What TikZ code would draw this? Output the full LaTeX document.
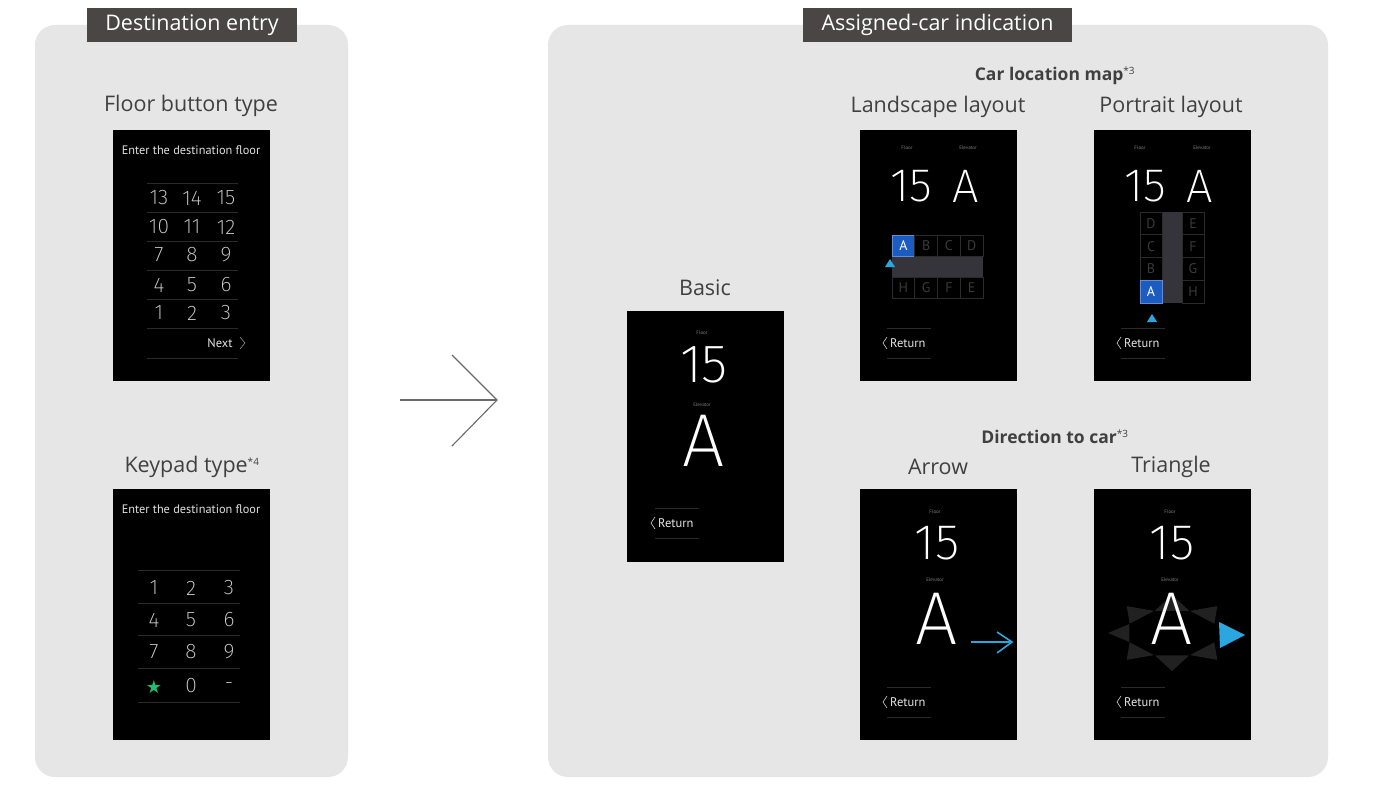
\documentclass[tikz,border=0pt]{standalone}
\usepackage{fontspec}
\setmainfont{Open Sans}
\newfontfamily\screenfont{PT Sans}
\newfontfamily\lightfont{Fira Sans ExtraLight}
\newfontfamily\symfont{DejaVu Sans}
\usetikzlibrary{positioning}

\definecolor{panelgray}{HTML}{E6E6E6}
\definecolor{tabgray}{HTML}{4B4646}
\definecolor{labelgray}{HTML}{404040}
\definecolor{rulegray}{HTML}{2A2A2A}
\definecolor{cellgray}{HTML}{3A3A3A}
\definecolor{lanegray}{HTML}{34343A}
\definecolor{cellblue}{HTML}{1C5CC0}
\definecolor{tipblue}{HTML}{2AA6E0}
\definecolor{keygreen}{HTML}{1DBF73}

\tikzset{
  panel/.style={fill=panelgray, rounded corners=20pt},
  tab/.style={fill=tabgray, text=white, font=\fontsize{21.5}{22}\selectfont, minimum height=34pt, inner sep=0pt},
  label/.style={text=labelgray, font=\fontsize{21.5}{24}\selectfont},
  head/.style={text=labelgray, font=\bfseries\fontsize{17.5}{20}\selectfont},
  screen/.style={fill=black, anchor=north west, minimum width=157pt, minimum height=251pt, inner sep=0pt},
  prompt/.style={text=white!88!black, font=\screenfont\fontsize{12.3}{13}\selectfont},
  key/.style={text=white!82!black, font=\lightfont\fontsize{21}{22}\selectfont},
  tiny/.style={text=white!50!black, font=\screenfont\fontsize{5}{6}\selectfont},
  big/.style={text=white, font=\lightfont\fontsize{#1}{#1}\selectfont},
  ret/.style={text=white!90!black, font=\screenfont\fontsize{12.5}{14}\selectfont, anchor=west, inner xsep=0pt},
  chev/.style={draw=white!80!black, line width=0.6pt},
  sep/.style={draw=rulegray, line width=0.8pt},
  cell/.style={draw=rulegray, line width=0.8pt, text=cellgray, minimum width=22.75pt, minimum height=21pt, inner sep=0pt, font=\screenfont\fontsize{14}{14}\selectfont},
  hicell/.style={cell, fill=cellblue, draw=cellblue!70!white, text=white},
  tri/.style={fill=white!13!black},
}

\newcommand\retbtn[3]{%
  \draw[sep] (#2+4,#3-15) -- (#2+48,#3-15) (#2+4,#3+15) -- (#2+48,#3+15);
  \draw[chev] (#2+4,#3-6) -- (#2,#3) -- (#2+4,#3+6);
  \node[ret] (#1) at (#2+7,#3) {Return};
}

\begin{document}
\begin{tikzpicture}[x=1pt,y=-1pt]
\useasboundingbox (0,0) rectangle (1373,797);
\fill[white] (0,0) rectangle (1373,797);

\fill[panel] (35,25) rectangle (348,777);
\fill[panel] (548,25) rectangle (1328,777);
\node[tab, minimum width=210pt] (tabentry) at (192,25) {Destination entry};
\node[tab, minimum width=269pt] (tabcar) at (937.5,25) {Assigned-car indication};

\node[label] (lfloor) at (191,106) {Floor button type};
\node[label] (lkeypad) at (192,467) {Keypad type\textsuperscript{\fontsize{10}{10}\selectfont *4}};
\node[label] (lbasic) at (705,288) {Basic};
\node[head] (lmap) at (1055,76) {Car location map\textsuperscript{\mdseries\fontsize{10}{10}\selectfont *3}};
\node[label] (lland) at (938,107) {Landscape layout};
\node[label] (lport) at (1171,107) {Portrait layout};
\node[head] (ldir) at (1055,437) {Direction to car\textsuperscript{\mdseries\fontsize{10}{10}\selectfont *3}};
\node[label] (larrow) at (938,467) {Arrow};
\node[label] (ltri) at (1171,467) {Triangle};

\coordinate (arrL) at (400,400);
\coordinate (arrR) at (497,400);
\draw[white!42!black, line width=1.1pt] (arrL) -- (arrR);
\draw[white!42!black, line width=1.1pt] (452,355) -- (arrR) -- (452,446);

% destination entry
\node[screen] (floorscr) at (113,130) {};
\node[prompt] (fprompt) at (191,150) {Enter the destination floor};
\foreach \y in {183,212,241,270,299,328,358} \draw[sep] (147,\y) -- (238,\y);
\foreach \y/\a/\b/\c in {198/13/14/15, 227/10/11/12, 255/7/8/9, 285/4/5/6, 313/1/2/3} {
  \node[key] (f\a) at (159,\y) {\a};
  \node[key] (f\b) at (192,\y) {\b};
  \node[key] (f\c) at (226,\y) {\c};
}
\node[ret, anchor=center] (fnext) at (220,343) {Next};
\draw[chev, draw=white!55!black] (240,337) -- (245,343) -- (240,349);

\node[screen] (keyscr) at (113,489) {};
\node[prompt] (kprompt) at (191,509) {Enter the destination floor};
\foreach \y in {570,603,635,668,702} \draw[sep] (138,\y) -- (240,\y);
\foreach \y/\a/\b/\c in {588/1/2/3, 620/4/5/6, 652/7/8/9} {
  \node[key] (k\a) at (154,\y) {\a};
  \node[key] (k\b) at (191,\y) {\b};
  \node[key] (k\c) at (229,\y) {\c};
}
\node[text=keygreen, font=\symfont\fontsize{18}{18}\selectfont] (kstar) at (154,687) {★};
\node[key] (k0) at (191,686) {0};
\node[key] (kdash) at (229,686) {-};

% assigned car
\node[screen] (basicscr) at (627,311) {};
\node[tiny] (bfloor) at (702,333) {Floor};
\node[big=54] (bnum) at (704,365) {15};
\node[tiny] (belev) at (702,405) {Elevator};
\node[big=75] (bcar) at (704,441) {A};
\retbtn{bret}{651}{523}

\node[screen] (landscr) at (860,130) {};
\node[tiny] (lfl) at (907,148) {Floor};
\node[tiny] (lel) at (968,148) {Elevator};
\node[big=47] (lnum) at (911,186) {15};
\node[big=47] (lcar) at (966,186) {A};
\fill[lanegray] (892,256) rectangle (983,277);
\node[hicell] (ltA) at (903.4,245.5) {A};
\foreach \l/\i in {B/1,C/2,D/3} \node[cell] (lt\l) at (903.4+22.75*\i,245.5) {\l};
\foreach \l/\i in {H/0,G/1,F/2,E/3} \node[cell] (lb\l) at (903.4+22.75*\i,287.5) {\l};
\fill[tipblue] (885,267) -- (890,259) -- (895,267) -- cycle;
\retbtn{lret}{883}{343}

\node[screen] (portscr) at (1094,130) {};
\node[tiny] (pfl) at (1140,148) {Floor};
\node[tiny] (pel) at (1202,148) {Elevator};
\node[big=47] (pnum) at (1145,186) {15};
\node[big=47] (pcar) at (1200,186) {A};
\fill[lanegray] (1162,212) rectangle (1182,303);
\foreach \l/\i in {D/0,C/1,B/2} \node[cell, minimum width=22pt, minimum height=22.75pt] (pl\l) at (1151,223.4+22.75*\i) {\l};
\node[hicell, minimum width=22pt, minimum height=22.75pt] (plA) at (1151,291.6) {A};
\foreach \l/\i in {E/0,F/1,G/2,H/3} \node[cell, minimum width=22pt, minimum height=22.75pt] (pr\l) at (1193,223.4+22.75*\i) {\l};
\fill[tipblue] (1147,322) -- (1152,314) -- (1157,322) -- cycle;
\retbtn{pret}{1117}{343}

\node[screen] (arrowscr) at (860,489) {};
\node[tiny] (afl) at (935,512) {Floor};
\node[big=50] (anum) at (937,543) {15};
\node[tiny] (ael) at (935,580) {Elevator};
\node[big=75] (acar) at (937,619) {A};
\draw[tipblue, line width=1.6pt] (971,642) -- (1010,642);
\draw[tipblue, line width=1.6pt] (997,632) -- (1012,642) -- (997,653);
\retbtn{aret}{883}{702}

\node[screen] (triscr) at (1094,489) {};
\node[tiny] (tfl) at (1170,512) {Floor};
\node[big=50] (tnum) at (1172,543) {15};
\node[tiny] (tel) at (1170,580) {Elevator};
\foreach \t in {45,90,...,315}
  \fill[tri] ({1172+64*cos(\t)},{633+38*sin(\t)}) -- ({1172+46*cos(\t-22)},{633+24*sin(\t-22)}) -- ({1172+46*cos(\t+22)},{633+24*sin(\t+22)}) -- cycle;
\fill[tipblue] (1245,635) -- (1219,622) -- (1220,648) -- cycle;
\node[big=75] (tcar) at (1172,619) {A};
\retbtn{tret}{1117}{702}
\end{tikzpicture}
\end{document}
